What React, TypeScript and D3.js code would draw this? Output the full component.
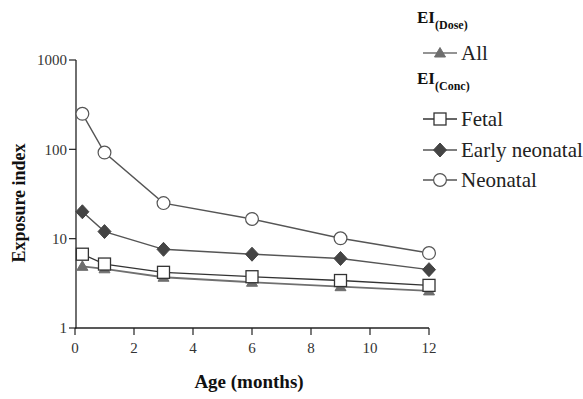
import React from 'react';
import * as d3 from 'd3';

// months of age
const ages = [0.25, 1, 3, 6, 9, 12];
// exposure index by series
const allDose = [4.9, 4.6, 3.7, 3.25, 2.9, 2.6];
const fetal = [6.7, 5.2, 4.2, 3.75, 3.4, 3.0];
const earlyNeonatal = [20, 12, 7.6, 6.7, 6.0, 4.5];
const neonatal = [250, 92, 25, 16.6, 10.1, 6.9];

const xTicks = [0, 2, 4, 6, 8, 10, 12];
const yTicks = [1, 10, 100, 1000];

const W = 583;
const H = 399;
const FONT = 'Liberation Serif';

type Marker = 'triangle' | 'square' | 'diamond' | 'circle';

const symbol = (m: Marker, cx: number, cy: number, key?: React.Key) => {
  switch (m) {
    case 'triangle':
      return <path key={key} d={`M${cx},${cy - 5.5}L${cx + 5.5},${cy + 4}L${cx - 5.5},${cy + 4}Z`} fill="#6e6e6e" stroke="#6e6e6e" strokeWidth={1} />;
    case 'square':
      return <rect key={key} x={cx - 6} y={cy - 6} width={12} height={12} fill="#fff" stroke="#333" strokeWidth={1.3} />;
    case 'diamond':
      return <path key={key} d={`M${cx},${cy - 7}L${cx + 6.5},${cy}L${cx},${cy + 7}L${cx - 6.5},${cy}Z`} fill="#444" stroke="#444" strokeWidth={1} />;
    default:
      return <circle key={key} cx={cx} cy={cy} r={6.4} fill="#fff" stroke="#555" strokeWidth={1.2} />;
  }
};

const series: { name: string; values: number[]; marker: Marker; color: string; width: number }[] = [
  { name: 'All', values: allDose, marker: 'triangle', color: '#707070', width: 1.8 },
  { name: 'Fetal', values: fetal, marker: 'square', color: '#333', width: 1.3 },
  { name: 'Early neonatal', values: earlyNeonatal, marker: 'diamond', color: '#555', width: 1.4 },
  { name: 'Neonatal', values: neonatal, marker: 'circle', color: '#555', width: 1.4 },
];

const App: React.FC = () => {
  const x = d3.scaleLinear().domain([0, 12]).range([75, 429]);
  const y = d3.scaleLog().domain([1, 1000]).range([328, 60]);
  const line = d3.line<[number, number]>().x(d => x(d[0])).y(d => y(d[1]));

  const legendRows: { name: string; marker: Marker; color: string; cy: number }[] = [
    { name: 'All', marker: 'triangle', color: '#707070', cy: 53 },
    { name: 'Fetal', marker: 'square', color: '#333', cy: 119 },
    { name: 'Early neonatal', marker: 'diamond', color: '#555', cy: 150 },
    { name: 'Neonatal', marker: 'circle', color: '#555', cy: 180 },
  ];

  return (
    <svg width={W} height={H} style={{ position: 'absolute', left: 0, top: 0, background: '#fff' }}>
      {/* axes */}
      <line x1={76} x2={76} y1={y(1000)} y2={y(1) + 0.5} stroke="#222" strokeWidth={1.3} />
      <line x1={x(0)} x2={x(12)} y1={328} y2={328} stroke="#222" strokeWidth={1.3} />
      {yTicks.map(t => (
        <g key={t}>
          <line x1={69} x2={76} y1={y(t)} y2={y(t)} stroke="#222" strokeWidth={1.2} />
          <text x={67} y={y(t)} dy="0.35em" textAnchor="end" fontSize={15} fontFamily={FONT} fill="#333">{t}</text>
        </g>
      ))}
      {xTicks.map(t => (
        <g key={t}>
          <line x1={x(t)} x2={x(t)} y1={328} y2={335} stroke="#222" strokeWidth={1.2} />
          <text x={x(t)} y={353} textAnchor="middle" fontSize={15} fontFamily={FONT} fill="#333">{t}</text>
        </g>
      ))}
      <text transform="translate(25,203) rotate(-90)" textAnchor="middle" fontSize={18} fontFamily={FONT} fontWeight="bold" fill="#111">Exposure index</text>
      <text x={249} y={388} textAnchor="middle" fontSize={19} fontFamily={FONT} fontWeight="bold" fill="#111">Age (months)</text>

      {/* series */}
      {series.map(s => {
        const pts = ages.map((a, i) => [a, s.values[i]] as [number, number]);
        return (
          <g key={s.name}>
            <path d={line(pts) ?? ''} fill="none" stroke={s.color} strokeWidth={s.width} />
            {pts.map((p, i) => symbol(s.marker, x(p[0]), y(p[1]), i))}
          </g>
        );
      })}

      {/* legend */}
      <text x={417} y={23} fontSize={17} fontFamily={FONT} fontWeight="bold" fill="#111">EI<tspan fontSize={12} dy={6}>(Dose)</tspan></text>
      <text x={417} y={84} fontSize={17} fontFamily={FONT} fontWeight="bold" fill="#111">EI<tspan fontSize={12} dy={6}>(Conc)</tspan></text>
      {legendRows.map(r => (
        <g key={r.name}>
          <line x1={423} x2={457} y1={r.cy} y2={r.cy} stroke={r.color} strokeWidth={1.5} />
          {symbol(r.marker, 440, r.cy)}
          <text x={461} y={r.cy} dy="0.35em" fontSize={21} fontFamily={FONT} fill="#222">{r.name}</text>
        </g>
      ))}
    </svg>
  );
};

export default App;
